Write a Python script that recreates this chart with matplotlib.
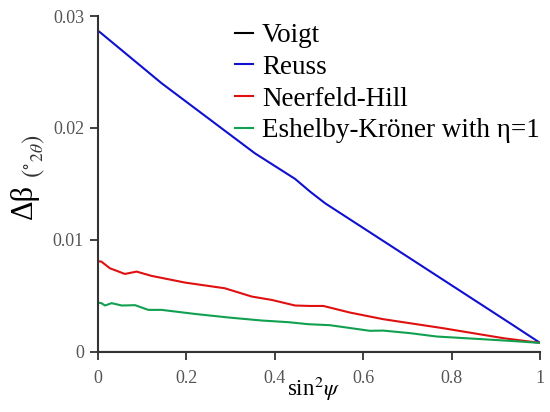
import numpy as np
import matplotlib
matplotlib.use("Agg")
import matplotlib.pyplot as plt

plt.rcParams['font.family'] = ['Liberation Serif', 'DejaVu Serif']
plt.rcParams['mathtext.fontset'] = 'stix'

# Peak-broadening difference vs sin^2(psi) for the grain interaction models
voigt_x = [0.0, 1.0]
voigt_y = [0.0, 0.0]

reuss_x = [0.0, 0.008, 0.144, 0.295, 0.355, 0.446, 0.48, 0.514, 0.63, 0.781, 0.932, 1.0]
reuss_y = [0.0287, 0.02845, 0.0240, 0.01952, 0.01774, 0.01545, 0.01431, 0.01327,
           0.0103, 0.00643, 0.00256, 0.0008]

hill_x = [0.0, 0.008, 0.027, 0.061, 0.0875, 0.121, 0.197, 0.287, 0.348, 0.393, 0.446,
          0.48, 0.51, 0.57, 0.645, 0.781, 0.917, 1.0]
hill_y = [0.0081, 0.00806, 0.00747, 0.00696, 0.00717, 0.00679, 0.00619, 0.00568, 0.00494,
          0.00464, 0.00414, 0.0041, 0.0041, 0.00351, 0.00292, 0.00211, 0.00122, 0.0008]

ek_x = [0.0, 0.008, 0.016, 0.031, 0.054, 0.084, 0.114, 0.144, 0.219, 0.295, 0.37, 0.431,
        0.476, 0.525, 0.615, 0.645, 0.706, 0.766, 0.857, 0.932, 1.0]
ek_y = [0.0044, 0.00435, 0.00414, 0.00435, 0.00414, 0.00417, 0.00375, 0.00375, 0.00339,
        0.00307, 0.0028, 0.00265, 0.00247, 0.00238, 0.00188, 0.0019, 0.00167, 0.00137,
        0.00116, 0.00098, 0.0008]

x_ticks = [0, 0.2, 0.4, 0.6, 0.8, 1]
x_ticklabels = ['0', '0.2', '0.4', '0.6', '0.8', '1']
y_ticks = [0, 0.01, 0.02, 0.03]
y_ticklabels = ['0', '0.01', '0.02', '0.03']

fig = plt.figure(figsize=(5.5, 4.12), dpi=100)
ax = fig.add_axes([0.178, 0.146, 0.804, 0.815])

ax.plot(voigt_x, voigt_y, color='black', lw=1.5, label='Voigt')
ax.plot(reuss_x, reuss_y, color='#1010d0', lw=1.5, label='Reuss')
ax.plot(hill_x, hill_y, color='#e01010', lw=1.5, label='Neerfeld-Hill')
ax.plot(ek_x, ek_y, color='#10a050', lw=1.5, label='Eshelby-Kröner with η=1')

ax.set_xlim(0, 1)
ax.set_ylim(0, 0.03)
ax.set_xticks(x_ticks)
ax.set_xticklabels(x_ticklabels)
ax.set_yticks(y_ticks)
ax.set_yticklabels(y_ticklabels)
ax.tick_params(direction='out', length=6, width=1.3, colors='#333333',
               labelsize=13, labelcolor='#555555', pad=4)
ax.tick_params(axis='x', pad=7)

for side in ['top', 'right']:
    ax.spines[side].set_visible(False)
for side in ['left', 'bottom']:
    ax.spines[side].set_color('#333333')
    ax.spines[side].set_linewidth(1.5)

ax.legend(loc='upper left', bbox_to_anchor=(235 / 550, 1 - 23 / 412),
          bbox_transform=fig.transFigure, frameon=False,
          fontsize=19.5, handlelength=0.65, handletextpad=0.35, labelspacing=0.25,
          borderpad=0, borderaxespad=0)

# axis titles
fig.text(287 / 550, 0.022, r'sin$^2\psi$', fontsize=16.5, ha='left', va='bottom')
fig.text(0.045, 0.51, 'Δβ', fontsize=22, rotation=90, ha='center', va='center')
fig.text(0.062, 0.62, r'$(^{\circ}{}_{2\theta})$', fontsize=18, rotation=90,
         ha='center', va='center', color='#333333')

fig.savefig('out.png', dpi=100)
